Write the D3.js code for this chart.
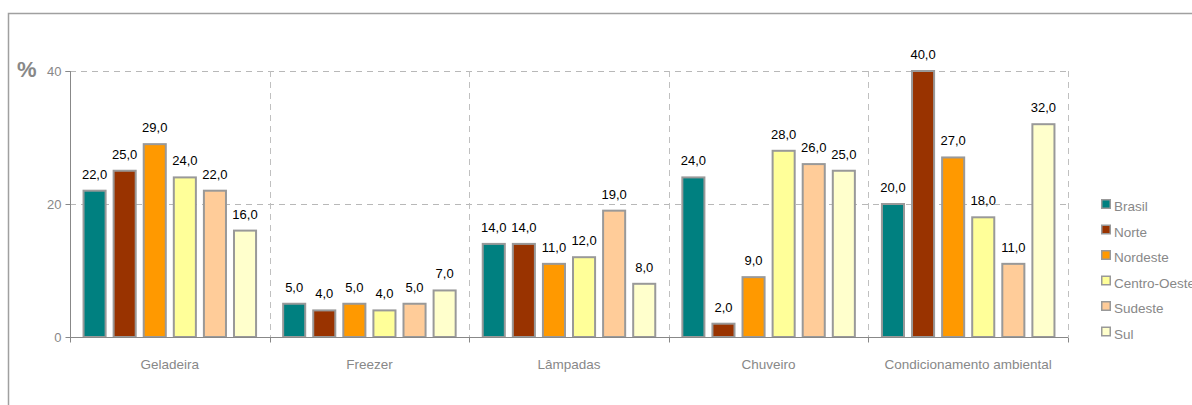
<!DOCTYPE html>
<html><head><meta charset="utf-8">
<script src="https://cdn.jsdelivr.net/npm/d3@7"></script>
<style>body{margin:0;background:#fff}svg{display:block;font-family:"Liberation Sans",Arial,sans-serif}</style>
</head><body><svg id="c" width="1192" height="405"></svg>
<script>
const categories = ["Geladeira","Freezer","Lâmpadas","Chuveiro","Condicionamento ambiental"];
const series = ["Brasil","Norte","Nordeste","Centro-Oeste","Sudeste","Sul"];
const brasil = [22,5,14,24,20];
const norte = [25,4,14,2,40];
const nordeste = [29,5,11,9,27];
const centroOeste = [24,4,12,28,18];
const sudeste = [22,5,19,26,11];
const sul = [16,7,8,25,32];
const yTicks = [0,20,40];
const colors = ["#008080","#993300","#FF9900","#FFFF99","#FFCC99","#FFFFCC"];
const values = [brasil,norte,nordeste,centroOeste,sudeste,sul];

const svg = d3.select("#c");
// outer frame
svg.append("path").attr("d","M8.5,405 V13.5 H1192").attr("fill","none").attr("stroke","#a0a0a0").attr("stroke-width",1.5);

const L=70, R=1068, T=71, B=337;
const x0 = d3.scaleBand().domain(categories).range([L,R]);
const x1 = d3.scaleBand().domain(series).range([0,x0.bandwidth()]).paddingInner(8/30).paddingOuter(0.45);
const y = d3.scaleLinear().domain([0,40]).range([B,T]);

// horizontal grid
svg.append("g").selectAll("line").data(yTicks.filter(d=>d>0)).join("line")
  .attr("x1",L).attr("x2",R).attr("y1",d=>Math.round(y(d))+0.5).attr("y2",d=>Math.round(y(d))+0.5)
  .attr("stroke","#b8b8b8").attr("stroke-dasharray","6,5");
// vertical category separators
const bounds = categories.map(c=>x0(c)).concat([R]);
svg.append("g").selectAll("line").data(bounds.slice(1)).join("line")
  .attr("x1",d=>Math.round(d)+0.5).attr("x2",d=>Math.round(d)+0.5).attr("y1",T).attr("y2",B)
  .attr("stroke","#c0c0c0").attr("stroke-dasharray","6,5");

// bars
const g = svg.append("g");
categories.forEach((c,ci)=>{
  series.forEach((s,si)=>{
    const v = values[si][ci];
    const bx = x0(c)+x1(s);
    g.append("rect").attr("x",bx).attr("y",y(v)).attr("width",x1.bandwidth()).attr("height",B-y(v))
      .attr("fill",colors[si]).attr("stroke","#999").attr("stroke-width",2);
    g.append("text").attr("x",bx+x1.bandwidth()/2).attr("y",y(v)-12).attr("text-anchor","middle")
      .attr("font-size",13).attr("fill","#000").text(d3.format(".1f")(v).replace(".",","));
  });
});

// axes
const yAxis = svg.append("g").attr("transform",`translate(${L+0.5},0)`)
  .call(d3.axisLeft(y).tickValues(yTicks).tickSize(5).tickPadding(4));
yAxis.select(".domain").attr("stroke","#888").attr("d",`M-5,${T+0.5}H0V${B}`);
yAxis.selectAll(".tick line").attr("stroke","#888");
yAxis.selectAll("text").attr("fill","#888").attr("font-size",13).attr("font-family","Liberation Sans, Arial, sans-serif");

const xAxis = svg.append("g").attr("transform",`translate(0,${B+0.5})`);
xAxis.append("line").attr("x1",L).attr("x2",R).attr("stroke","#888");
xAxis.selectAll(".tk").data(bounds).join("line").attr("class","tk")
  .attr("x1",d=>Math.round(d)+0.5).attr("x2",d=>Math.round(d)+0.5).attr("y1",0).attr("y2",5).attr("stroke","#888");
xAxis.selectAll("text").data(categories).join("text")
  .attr("x",d=>x0(d)+x0.bandwidth()/2).attr("y",31).attr("text-anchor","middle")
  .attr("font-size",13.5).attr("fill","#888").text(d=>d);

svg.append("text").attr("x",17).attr("y",77).attr("font-size",22).attr("font-weight","bold").attr("fill","#888").text("%");

// legend
const lg = svg.append("g").attr("transform","translate(1101,199)");
series.forEach((s,i)=>{
  const row = lg.append("g").attr("transform",`translate(0,${i*25.5})`);
  row.append("rect").attr("x",0.75).attr("y",0.75).attr("width",8.5).attr("height",8.5).attr("fill",colors[i]).attr("stroke","#999").attr("stroke-width",1.5);
  row.append("text").attr("x",13).attr("y",12).attr("font-size",13.5).attr("fill","#888").text(s);
});
</script></body></html>
